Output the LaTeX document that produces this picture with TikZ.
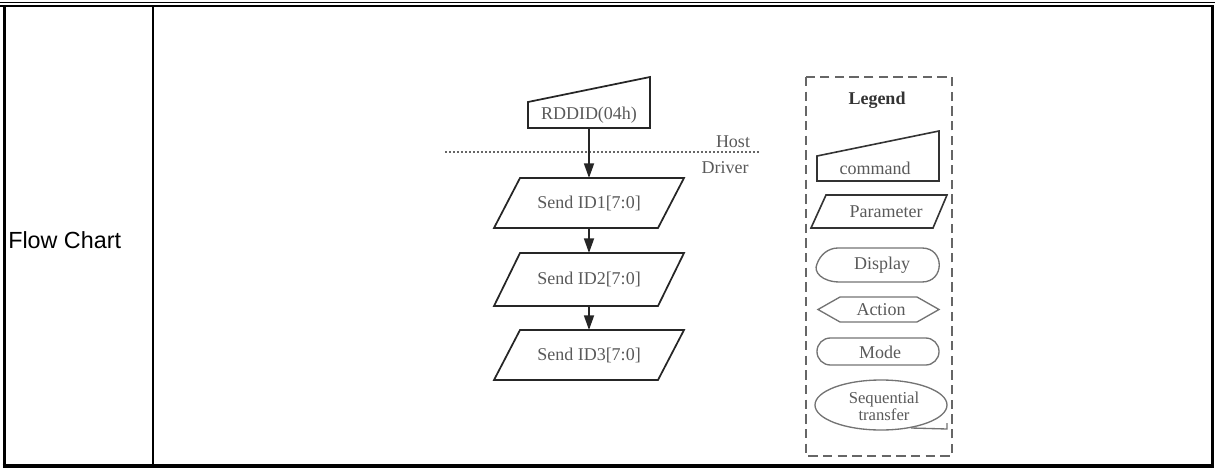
\documentclass[tikz,border=0pt]{standalone}
\usepackage{fontspec}
\setmainfont{Liberation Serif}
\newfontfamily\arialfont{Liberation Sans}
\usetikzlibrary{arrows.meta}
\newcommand\mypara[1]{%
  \draw[flowline] ([xshift=9.75pt]#1.north west) -- ([xshift=9.75pt]#1.north east)
    -- ([xshift=-9.75pt]#1.south east) -- ([xshift=-9.75pt]#1.south west) -- cycle;}
\begin{document}
\begin{tikzpicture}[x=0.75pt,y=-0.75pt,
  flowline/.style={draw=black!85, line width=1.3pt, line join=miter},
  legline/.style={draw=black!55, line width=1pt},
  legdark/.style={draw=black!80, line width=1.2pt},
  txt/.style={font=\fontsize{13.5}{13.5}\selectfont, text=black!65, inner sep=0pt, outer sep=0pt},
  parabox/.style={txt, rectangle, minimum width=123pt},
  cmdbox/.style={txt, rectangle, minimum width=91.5pt, minimum height=19.5pt},
  arrow/.style={flowline, -{Triangle[length=11pt,width=7.5pt]}},
  dashbox/.style={draw=black!60, line width=1pt, dash pattern=on 7pt off 4pt},
  dotline/.style={draw=black!60, line width=1pt, dash pattern=on 1.2pt off 1.8pt},
  frame/.style={draw=black}
]
\useasboundingbox (0,0) rectangle (1215,468);

% table frame
\draw[frame, line width=1.3pt] (0,2.5) -- (1215,2.5);
\draw[frame, line width=2pt] (0,6) -- (1214,6);
\draw[frame, line width=2.5pt] (4.3,6) -- (4.3,466);
\draw[frame, line width=2.3pt] (1212.5,6) -- (1212.5,466);
\draw[frame, line width=2.6pt] (2.6,466) -- (1214,466);
\draw[frame, line width=1.5pt] (153,6) -- (153,466);

\node[anchor=west, font=\arialfont\fontsize{17.5}{17.5}\selectfont, inner sep=0pt] (title) at (8,240) {Flow Chart};

% flowchart
\node[cmdbox] (cmd) at (589,115) {RDDID(04h)};
\draw[flowline] (cmd.south west) -- (cmd.north west) -- ([yshift=18.75pt]cmd.north east) -- (cmd.south east) -- cycle;

\coordinate (dl) at (445,152);
\coordinate (dr) at (760,152);
\draw[dotline] (dl) -- (dr);
\node[txt] (host) at (733,142) {Host};
\node[txt] (driver) at (725,168) {Driver};

\node[parabox, minimum height=37.5pt] (p1) at (589,203) {Send ID1[7:0]};
\node[parabox, minimum height=39.75pt] (p2) at (589,279.5) {Send ID2[7:0]};
\node[parabox, minimum height=37.5pt] (p3) at (589,355) {Send ID3[7:0]};
\mypara{p1}
\mypara{p2}
\mypara{p3}

\draw[arrow] (cmd.south) -- (p1.north);
\draw[arrow] (p1.south) -- (p2.north);
\draw[arrow] (p2.south) -- (p3.north);

% legend
\draw[dashbox] (806,77) rectangle (952,456);
\node[txt, font=\bfseries\fontsize{13.5}{13.5}\selectfont, text=black!80] (leg) at (877,100) {Legend};

\draw[legdark] (817,181) -- (817,156) -- (939,131) -- (939,181) -- cycle;
\node[txt] (lcmd) at (875,168) {command};

\draw[legdark] (826,195) -- (947,195) -- (933,228) -- (811,228) -- cycle;
\node[txt] (lpar) at (886,212) {Parameter};

\draw[legline] (838,248) -- (922,248) .. controls (945,248) and (945,282) .. (922,282)
  -- (840,282) .. controls (822,282) and (813,272) .. (817,264) .. controls (820,255) and (828,248) .. (838,248);
\node[txt] (ldisp) at (882,265) {Display};

\draw[legline] (818,309.5) -- (840,297) -- (917,297) -- (939,309.5) -- (917,322) -- (840,322) -- cycle;
\node[txt] (lact) at (881,310) {Action};

\draw[legline, rounded corners=10pt] (817,338) rectangle (939,365);
\node[txt] (lmode) at (880,352) {Mode};

\draw[legline] (881,405) ellipse [x radius=66, y radius=25];
\draw[legline] (911,428) -- (947,429) -- (947,423);
\node[txt, align=center, font=\fontsize{12.5}{12.5}\selectfont] (lseq) at (884,406) {Sequential\\transfer};

\end{tikzpicture}
\end{document}
